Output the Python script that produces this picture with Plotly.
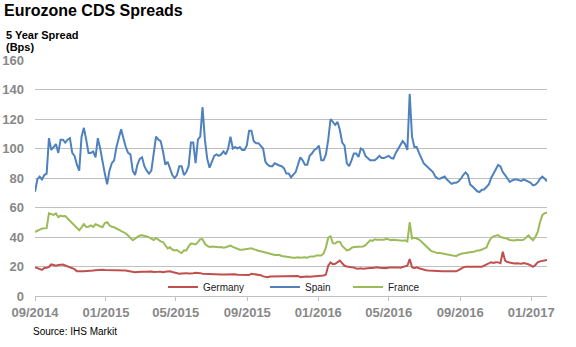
import pandas as pd
import plotly.graph_objects as go

# 5-year CDS spreads (bps), sampled every 4 days from 1 Sep 2014
START = "2014-09-01"

spain = [
    70.7, 79, 81, 79, 82, 83, 107, 99, 101, 103,
    97, 106, 106, 104, 106, 107, 97, 95, 89, 85,
    108, 114, 106, 97, 97, 98, 94, 107, 100, 90,
    83, 75.7, 85, 90, 92, 101, 108, 113, 107, 101,
    97, 96, 85, 82, 89, 93, 94, 88, 85, 83,
    85, 98, 108, 106, 105, 98, 89, 91, 87, 82,
    80, 82, 88, 88, 82, 84, 88, 104, 104, 90,
    106, 108, 128, 106, 93, 87, 91, 95, 96, 95,
    96, 98, 96, 100, 108, 100, 101, 100, 101, 99,
    99, 102, 112, 112, 105, 103.6, 103.6, 101.5, 100, 91,
    89, 88, 88, 90, 89, 88.5, 88, 86.5, 83, 83,
    80.5, 82, 84, 89, 94, 92, 89, 89, 95, 96.6,
    99, 100, 102, 92, 92, 96, 106, 120, 118, 116,
    118, 112.5, 104, 102, 90, 88, 92, 96.6, 96.6, 94.3,
    100, 99, 95, 93.5, 92, 92, 92, 93.4, 95, 93.5,
    93.5, 94.3, 95, 93.5, 93.2, 97, 100, 102.5, 105, 103,
    99, 137, 108, 101, 101, 97, 93, 90, 88.5, 87,
    85.4, 84, 81, 79.6, 79.5, 80, 81, 79, 77.5, 76,
    76.7, 76.7, 77.8, 79.5, 82, 83.8, 82, 75.5, 74.2, 72.7,
    71, 70.5, 72, 72.2, 74, 75.6, 80, 83, 85.6, 88.8,
    87.8, 84, 82, 79.5, 77.3, 78.3, 78.9, 78.9, 78.2, 78,
    79, 78, 77.5, 76.7, 75, 75.5, 77, 79.5, 81, 79.5,
    77.8,
]

france = [
    43.4, 44.5, 45, 45.7, 45.7, 46, 56, 55.5, 55, 56,
    53.5, 54.5, 54, 54.2, 52.6, 51.5, 49.7, 48.5, 46.3, 44.6,
    46.5, 48.7, 46.8, 47, 47.8, 46.8, 48.6, 48, 47.3, 46.6,
    49.5, 50, 48, 46.9, 46.6, 45.7, 45.3, 44, 43.2, 42.4,
    41, 39, 37.8, 38.9, 40.2, 41.1, 41.2, 40.9, 40.4, 39.7,
    38.9, 38, 39.3, 38, 37, 36.6, 34.6, 32.2, 33, 31.5,
    30.9, 31.2, 30, 29.1, 31, 30.9, 33.6, 35.5, 35.4, 35,
    36.5, 38.5, 38.5, 35.4, 34, 33.3, 33.5, 33.2, 33, 33,
    33.2, 32.8, 33.1, 33.6, 34.2, 33.3, 32.5, 31.8, 31.4, 31.4,
    31.6, 32, 32.5, 32.4, 31.8, 31.1, 30.7, 30.3, 29.8, 29.3,
    29, 28.6, 28.2, 27.8, 27.8, 27.8, 27.1, 26.8, 26.8, 26.6,
    26.2, 25.9, 25.9, 26.3, 25.9, 26.3, 26.2, 25.9, 26.7, 26.8,
    26.8, 27.5, 27.5, 27.5, 28.8, 33, 39.5, 40.5, 35.8, 35.6,
    36.8, 36.7, 33.9, 32.3, 30.9, 31.3, 32.6, 33.2, 33.2, 33.4,
    33.6, 33.6, 34.5, 35.8, 37.7, 37.4, 38.5, 38.2, 38.2, 38.2,
    38.2, 38.8, 38.2, 37.9, 38.2, 38.2, 38, 37.7, 37.4, 37.7,
    37, 50, 39, 39.5, 39, 38.3, 37, 35.5, 33.9, 32.3,
    30.8, 30.1, 29.5, 29.1, 29.1, 28.8, 28.6, 28.6, 28.3, 28,
    27.5, 27, 28, 28.7, 29, 29.1, 29.3, 29.8, 29.8, 30.2,
    30.9, 30.9, 31.5, 32, 32.9, 36.6, 39.3, 40.4, 41, 41.3,
    40, 39.7, 39.3, 38.8, 38, 37.7, 37.7, 38.1, 37.9, 37.8,
    38.2, 39.5, 41.1, 39.3, 37.8, 40, 43.5, 50, 54.8, 56.2,
    56.4,
]

germany = [
    19.5, 18.9, 18.5, 17.7, 19, 19.1, 19.8, 21.4, 21, 20.6,
    21.1, 21.4, 21.3, 20.7, 20.1, 19.5, 18.8, 18.2, 16.8, 16.6,
    16.8, 16.8, 16.8, 17, 17.3, 17.3, 17.5, 17.7, 17.7, 17.8,
    17.7, 17.7, 17.6, 17.7, 17.7, 17.8, 17.7, 17.6, 17.5, 17.3,
    17, 16.6, 16.2, 16.1, 16.3, 16.6, 16.5, 16.4, 16.6, 16.8,
    16.6, 16.3, 16.1, 16.4, 16.5, 16.1, 16.5, 16.7, 16.8, 16.3,
    15.8, 15.5, 15.1, 15.3, 15.5, 15.5, 15.2, 15.2, 15.5, 15.8,
    15.8, 15.5, 15.1, 15, 14.9, 14.6, 14.5, 14.5, 14.5, 14.6,
    14.5, 14.5, 14.6, 14.5, 14.8, 15, 14.7, 14.4, 14.3, 14.1,
    14.2, 14.4, 14.2, 15.1, 14.9, 14.6, 14.4, 14.1, 13.3, 12.9,
    12.8, 13.2, 13.2, 13.3, 13.1, 13.2, 13.3, 13.2, 13.1, 13.2,
    13.2, 13.2, 13.5, 13.6, 12.8, 13.1, 13.2, 13.2, 13.1, 13.2,
    13.2, 13.3, 13.5, 13.7, 13.9, 14.5, 20.5, 22.8, 21.5, 21.8,
    23, 24, 22.2, 20.5, 20, 19.6, 19.5, 19.4, 18.6, 18.5,
    18.8, 18.4, 18.7, 18.9, 18.9, 19, 19.3, 19.5, 19.2, 19.1,
    19.1, 18.9, 19.3, 19.4, 19.1, 19.3, 19.4, 19.1, 19.4, 20,
    20.5, 25, 19.5, 18.8, 19.4, 18.8, 18.3, 17.7, 17.5, 17.3,
    17.3, 16.9, 16.8, 16.8, 16.8, 16.8, 16.7, 16.6, 16.6, 16.6,
    16.6, 16.7, 17.5, 18.6, 19.4, 19.8, 19.8, 19.6, 19.8, 20,
    20, 19.7, 19.8, 20.6, 21.5, 22.3, 22.9, 22.4, 22.9, 22.8,
    22.3, 30, 24, 23, 22.5, 22, 22, 22.2, 22, 21.9,
    22.3, 22, 21.5, 20.7, 19.8, 21, 22.8, 23.5, 23.9, 24.2,
    24.5,
]

series = [
    ("Germany", germany, "#C0504D", 57),
    ("Spain", spain, "#4F81BD", 38),
    ("France", france, "#9BBB59", 40),
]

FONT = "Liberation Sans, Arial, sans-serif"
TICK_GREY = "#888888"
GRID = "#c0c0c0"

fig = go.Figure()
for name, values, color, entry_w in series:
    dates = pd.date_range(START, periods=len(values), freq="4D")
    fig.add_trace(go.Scatter(
        x=dates, y=values, name=name, mode="lines",
        line=dict(color=color, width=2),
        legendwidth=entry_w,
    ))

fig.update_layout(
    width=576, height=347,
    margin=dict(l=35, r=29, t=60, b=51, autoexpand=False),
    paper_bgcolor="white", plot_bgcolor="white",
    font=dict(family=FONT, color="#000000"),
    title=dict(
        text="Eurozone CDS Spreads",
        font=dict(family=FONT, size=16, color="#000000", weight="bold"),
        x=4 / 576, xanchor="left", xref="container",
        y=1 - 10.5 / 347, yanchor="middle", yref="container",
        automargin=False,
    ),
    legend=dict(
        orientation="h",
        x=0.25, xanchor="left",
        y=0.038, yanchor="middle",
        bgcolor="rgba(0,0,0,0)",
        font=dict(family=FONT, size=10, color="#1a1a1a"),
    ),
    xaxis=dict(
        type="date", automargin=False,
        range=["2014-09-01", "2017-01-28"],
        tick0="2014-09-01", dtick="M4", tickformat="%m/%Y",
        ticks="outside", ticklen=4, tickcolor=GRID,
        showline=True, linecolor=GRID, linewidth=1,
        showgrid=False, zeroline=False,
        tickfont=dict(family=FONT, size=13, color=TICK_GREY, weight="bold"),
    ),
    yaxis=dict(
        range=[0, 160], tick0=0, dtick=20, automargin=False,
        showgrid=True, gridcolor=GRID, gridwidth=1,
        zeroline=False, showline=False, ticks="",
        ticklabelstandoff=10,
        tickfont=dict(family=FONT, size=13, color=TICK_GREY, weight="bold"),
    ),
    annotations=[
        dict(text="<b>5 Year Spread</b>", xref="paper", yref="paper",
             x=(4 - 35) / 512, y=(296 - 35.5) / 236,
             xanchor="left", yanchor="middle", showarrow=False,
             font=dict(family=FONT, size=11, color="#000000")),
        dict(text="<b>(Bps)</b>", xref="paper", yref="paper",
             x=(4 - 35) / 512, y=(296 - 47) / 236,
             xanchor="left", yanchor="middle", showarrow=False,
             font=dict(family=FONT, size=11, color="#000000")),
        dict(text="Source: IHS Markit", xref="paper", yref="paper",
             x=(31 - 35) / 512, y=(296 - 331.7) / 236,
             xanchor="left", yanchor="middle", showarrow=False,
             font=dict(family=FONT, size=10, color="#000000")),
    ],
)

fig.write_html("out.html")
